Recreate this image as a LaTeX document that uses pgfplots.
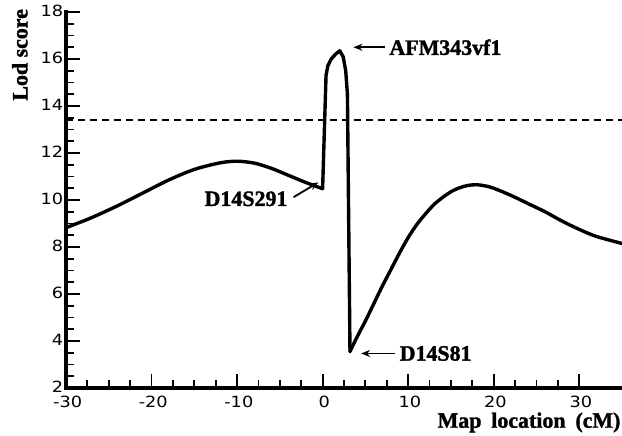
\documentclass[border=0pt]{standalone}
\usepackage{fontspec}
\setmainfont{Liberation Serif}[BoldFeatures={FakeBold=1.5}]
\newfontfamily\tickfont{DejaVu Sans}
\usepackage{pgfplots}
\pgfplotsset{compat=1.18}
\usetikzlibrary{arrows.meta}

\tikzset{
    curve/.style = {black, line width=3.4bp, line join=round, line cap=round},
    lbl/.style = {font=\fontsize{22}{22}\selectfont\bfseries},
    pointer/.style = {-{Stealth[length=9bp,width=7bp]}, line width=1.8bp},
}

\begin{document}
\begin{tikzpicture}
\begin{axis}[
    scale only axis,
    width=556bp, height=376bp,
    xmin=-30, xmax=35, ymin=2, ymax=18,
    axis x line*=bottom, axis y line*=left,
    axis line style={line width=3.4bp, line cap=rect},
    xtick={-30,-20,...,30}, ytick={2,4,...,18},
    minor x tick num=3, minor y tick num=3,
    tick align=inside,
    major tick length=14bp, minor tick length=8bp,
    every tick/.style={black, line width=1.9bp},
    /pgf/number format/assume math mode=true,
    ticklabel style={font=\tickfont\fontsize{15.5}{15.5}\selectfont, xscale=1.15},
    xticklabel style={yshift=-5bp, xshift=1.5bp},
    yticklabel style={xshift=1bp, yshift=1bp},
    xlabel={Map\hspace{0.45em}location\hspace{0.45em}(cM)},
    ylabel={Lod score},
    label style={font=\fontsize{22}{22}\selectfont\bfseries},
    xlabel style={at={(rel axis cs:1,0)}, anchor=north east, yshift=-21bp, xshift=2bp},
    ylabel style={at={(axis description cs:-0.083,0.886)}, anchor=center},
    clip=false,
]
% threshold
\addplot[black, line width=1.3bp, dash pattern=on 7bp off 5bp] coordinates {(-30,13.4) (35,13.4)};

% left hump
\addplot[curve, smooth, tension=0.5] coordinates {
    (-30,8.82) (-27,9.25) (-24,9.75) (-21,10.3) (-18,10.85) (-15,11.3)
    (-12,11.58) (-10,11.65) (-8,11.57) (-6,11.35) (-4,11.05) (-2,10.75) (0,10.48)
};
% spike
\addplot[curve] coordinates {
    (0,10.48) (0.25,13.5) (0.4,15.3) (0.6,15.7) (1.0,16.0) (1.5,16.2)
    (2.0,16.35) (2.4,16.1) (2.7,15.5) (2.9,14.5) (3.2,3.55)
};
% right hump
\addplot[curve, smooth, tension=0.5] coordinates {
    (3.2,3.55) (4,4.15) (5,4.85) (6,5.6) (7,6.35) (8,7.05) (9,7.75)
    (10,8.4) (11,8.95) (12,9.4) (13,9.8) (14,10.1) (15,10.35) (16,10.52)
    (17,10.62) (18,10.65) (19,10.6) (20,10.5) (22,10.2) (24,9.85)
    (26,9.5) (28,9.1) (30,8.75) (32,8.45) (35,8.15)
};

% marker labels
\draw[pointer] (axis cs:7.3,16.5) -- (axis cs:3.6,16.5);
\node[lbl, anchor=west] at (axis cs:7.4,16.5) {AFM343vf1};
\draw[pointer] (axis cs:8.5,3.47) -- (axis cs:4.5,3.47);
\node[lbl, anchor=west] at (axis cs:8.6,3.47) {D14S81};
\draw[pointer] (axis cs:-3.4,10.12) -- (axis cs:-0.5,10.75);
\node[lbl, anchor=east] at (axis cs:-3.7,10.05) {D14S291};
\end{axis}
\pgfresetboundingbox
\path[use as bounding box] (-66bp,-48bp) rectangle (556bp,388bp);
\end{tikzpicture}
\end{document}
